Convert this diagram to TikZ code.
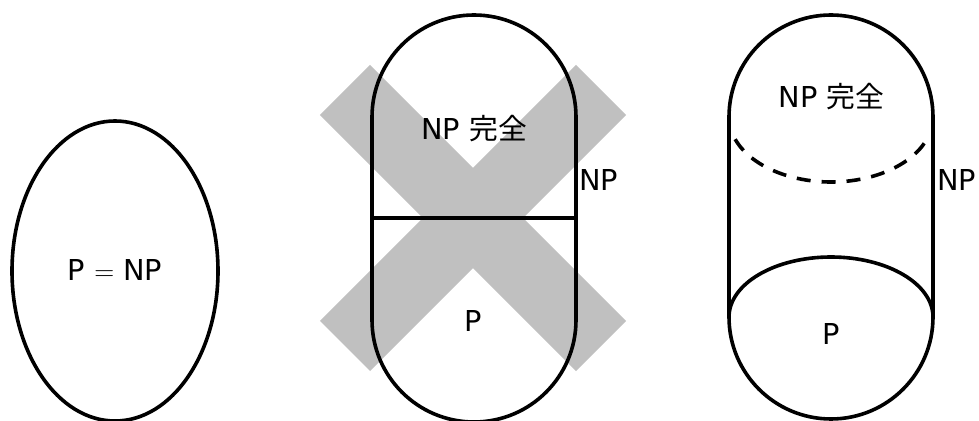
\documentclass[tikz,border=0pt]{standalone}
\usepackage{fontspec}
\setmainfont{DejaVu Sans}
\newfontfamily\cjk{Noto Sans CJK JP}
\usepackage{tikz}
\definecolor{crossgray}{RGB}{192,192,192}
\tikzset{
	outline/.style={line width=2.7pt},
	lbl/.style={inner sep=0pt, anchor=base, font=\fontsize{21.6}{26}\selectfont},
	sidelbl/.style={lbl, anchor=base west}
}

\begin{document}
\begin{tikzpicture}[x=0.75pt, y=0.75pt]
		%%%%% START %%%%%
		\useasboundingbox (0, 0) rectangle (979, 421);
		
		% P = NP
		\draw[outline] (115, 150) ellipse (103 and 150);
		\node[lbl] (pnp) at (115, 140) {P $=$ NP};
		
		% crossed-out picture
		\draw[crossgray, line width=53.25pt] (345, 331) -- (601, 75);
		\draw[crossgray, line width=53.25pt] (601, 331) -- (345, 75);
		\draw[outline] (372, 304) arc (180:0:102) -- (576, 101) arc (0:-180:102) -- cycle;
		\draw[outline] (372, 203) -- (576, 203);
		\node[lbl] (npcA) at (474, 281) {NP {\cjk 完全}};
		\node[lbl] (pA) at (473, 89) {P};
		\node[sidelbl] (npA) at (579, 230) {NP};
		
		% cylinder
		\draw[outline] (729, 304) arc (180:0:102) -- (933, 104) arc (0:-180:102) -- cycle;
		\draw[outline] (729, 104) arc (180:0:102 and 60);
		\draw[outline, dash pattern=on 10.5pt off 8.25pt] (831, 304) ++(200:102 and 65) arc (200:340:102 and 65);
		\node[lbl] (npcB) at (831.5, 313) {NP {\cjk 完全}};
		\node[lbl] (pB) at (831, 76) {P};
		\node[sidelbl] (npB) at (937, 230) {NP};
		%%%%% END %%%%%
	\end{tikzpicture}
\end{document}
